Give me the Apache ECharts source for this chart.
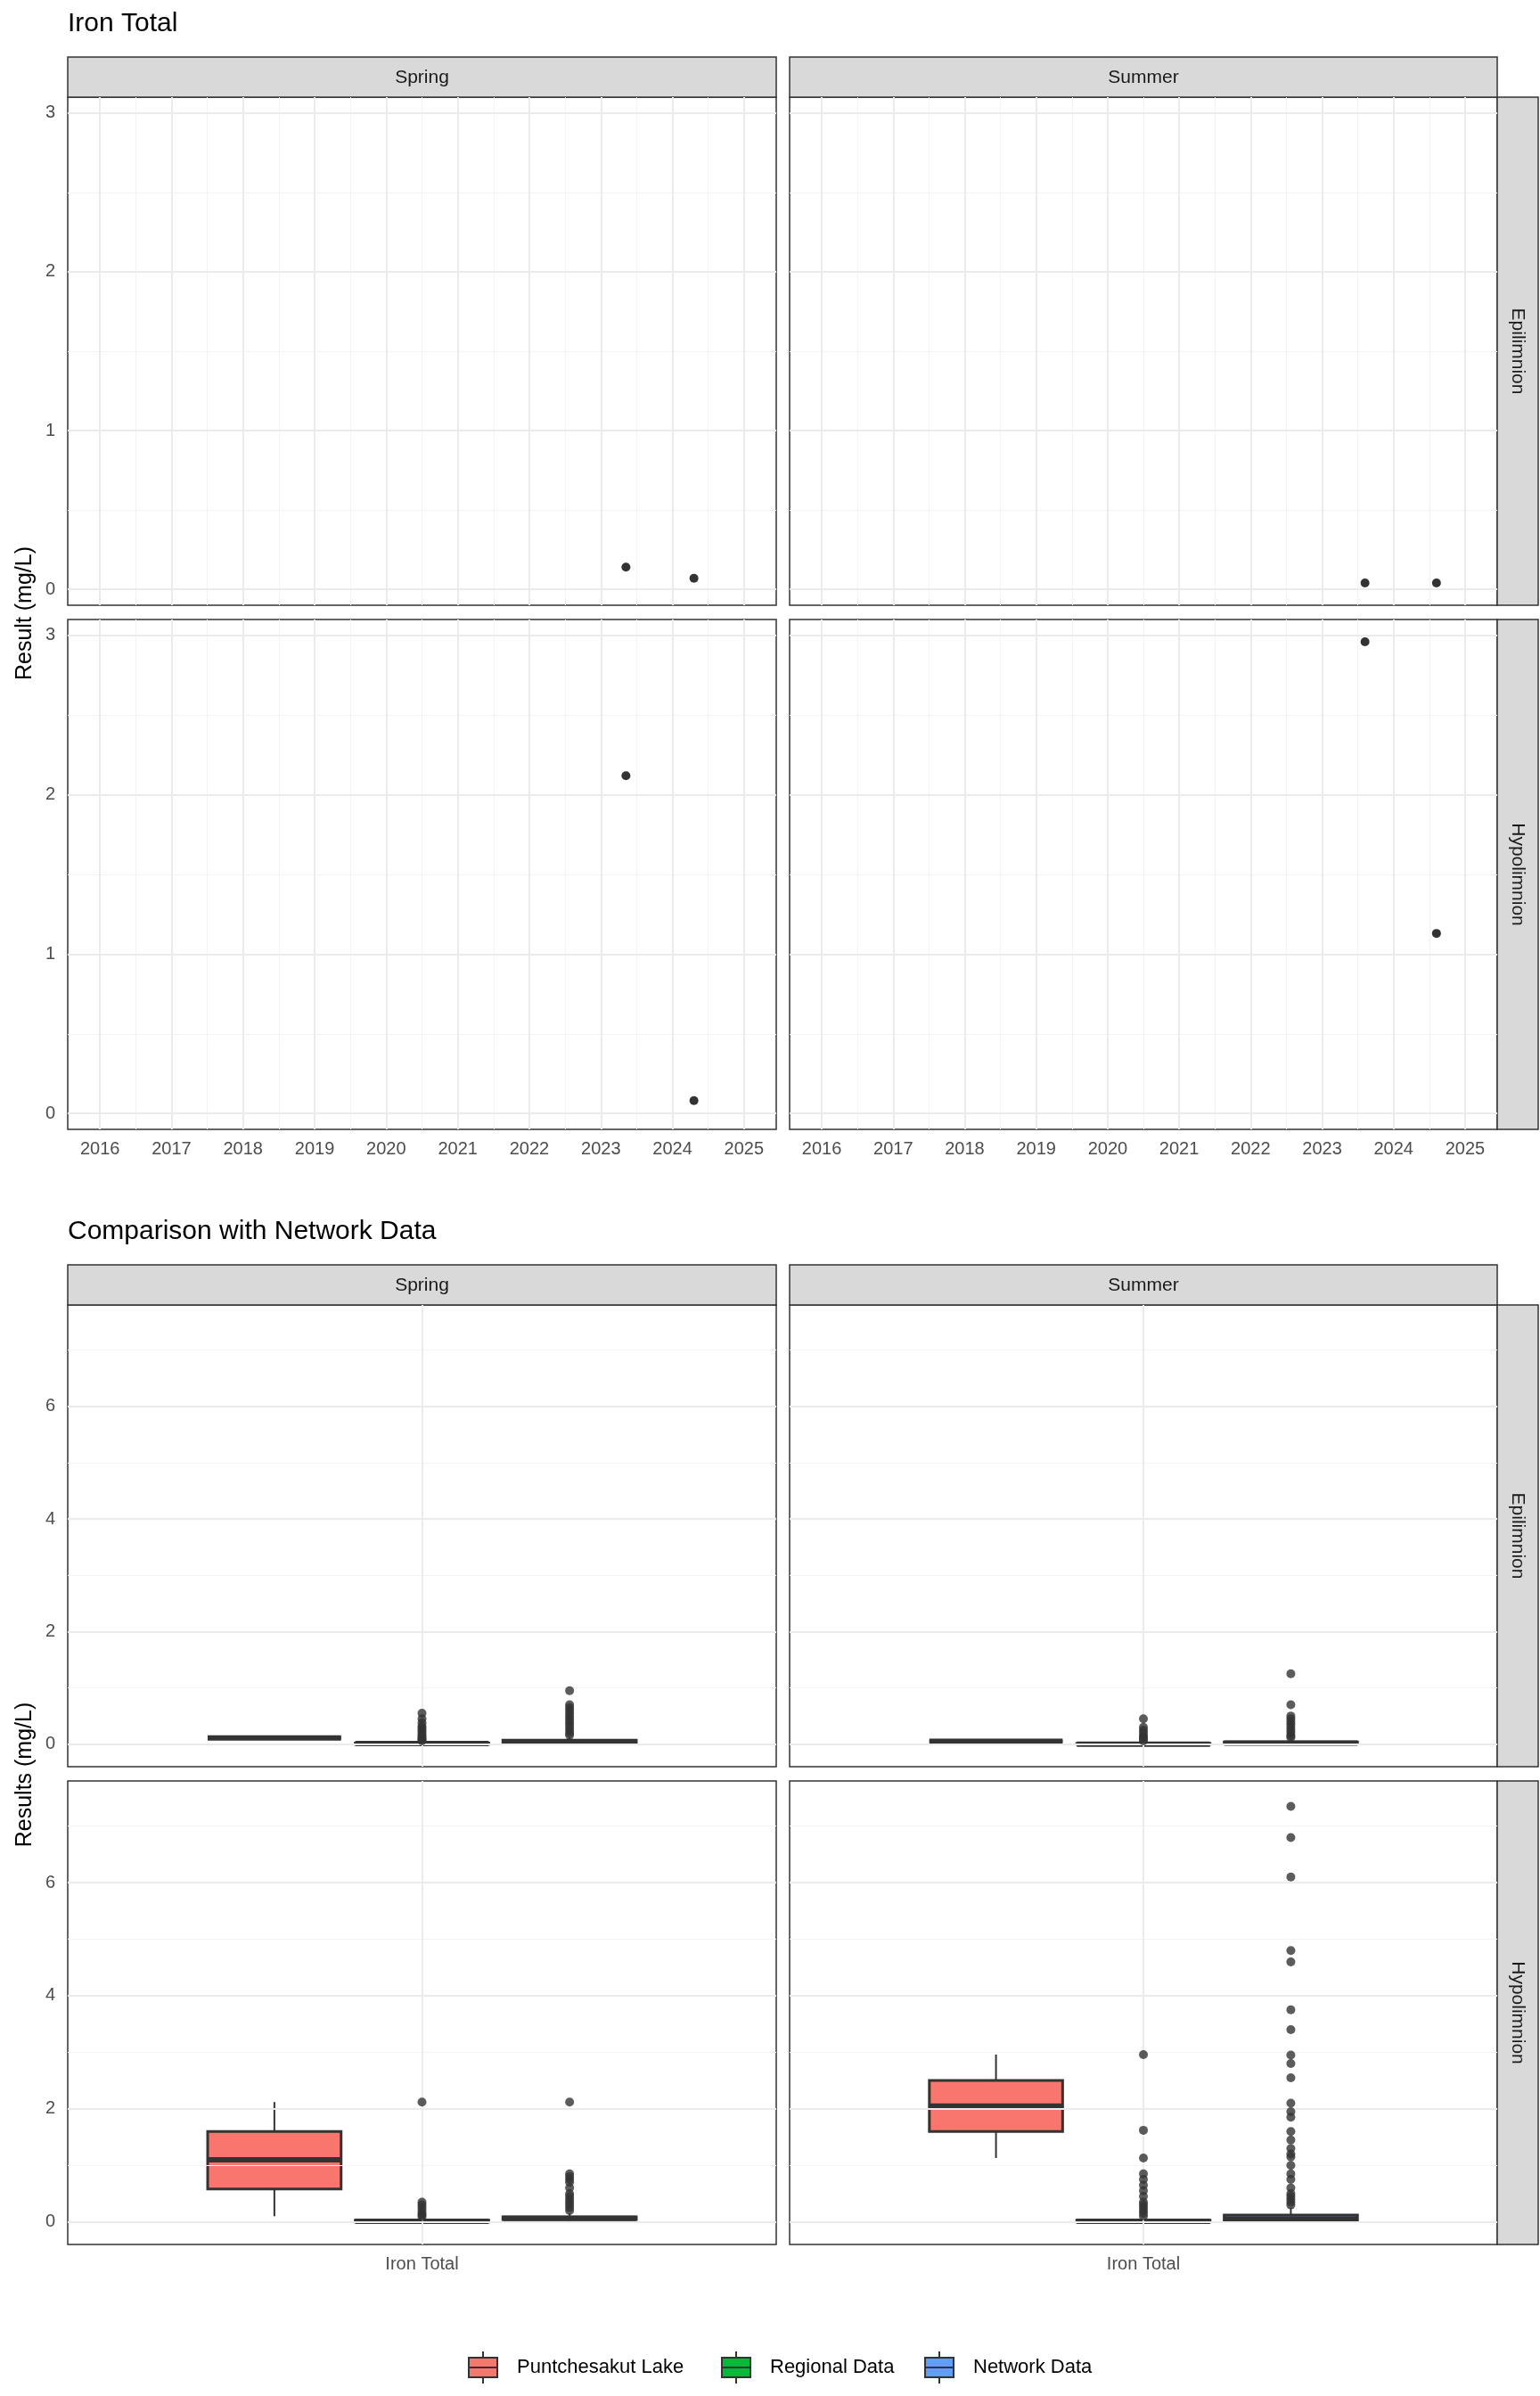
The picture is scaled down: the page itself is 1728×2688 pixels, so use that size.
<!DOCTYPE html>
<html lang="en">
<head>
<meta charset="UTF-8">
<title>Iron Total</title>
<script src="https://cdn.jsdelivr.net/npm/echarts@6/dist/echarts.min.js"></script>
<style>body{margin:0;background:#fff}#main{width:1728px;height:2688px}</style>
</head>
<body>
<div id="main"></div>
<script>
// ---- data ----
var seasons = ['Spring', 'Summer'];
var layers = ['Epilimnion', 'Hypolimnion'];
var groups = ['Puntchesakut Lake', 'Regional Data', 'Network Data'];
var groupColors = ['#F8766D', '#00BA38', '#619CFF'];
var groupX = [0.75, 1.0, 1.25];

// top: time series points [decimal year, mg/L], order SpEpi, SuEpi, SpHy, SuHy
var ptsSpringEpi = [[2023.35, 0.14], [2024.3, 0.07]];
var ptsSummerEpi = [[2023.6, 0.04], [2024.6, 0.04]];
var ptsSpringHypo = [[2023.35, 2.12], [2024.3, 0.08]];
var ptsSummerHypo = [[2023.6, 2.96], [2024.6, 1.13]];
var yearTicks = [2016, 2017, 2018, 2019, 2020, 2021, 2022, 2023, 2024, 2025];
var topYTicks = [0, 1, 2, 3];
var botYTicks = [0, 2, 4, 6];

// bottom: boxes [min, q1, median, q3, max] per group
var boxSpringEpi = [[0.11, 0.11, 0.11, 0.11, 0.11], [0, 0, 0.01, 0.02, 0.04], [0, 0.02, 0.04, 0.07, 0.12]];
var boxSummerEpi = [[0.05, 0.05, 0.05, 0.05, 0.05], [0, 0, 0, 0.01, 0.03], [0, 0.01, 0.02, 0.04, 0.08]];
var boxSpringHypo = [[0.1, 0.58, 1.1, 1.6, 2.12], [0, 0, 0.01, 0.03, 0.06], [0.02, 0.04, 0.06, 0.09, 0.15]];
var boxSummerHypo = [[1.13, 1.6, 2.05, 2.5, 2.96], [0, 0, 0.01, 0.03, 0.07], [0, 0.02, 0.05, 0.12, 0.25]];
// outliers per group
var outSpringEpi = [[], [0.55, 0.45, 0.38, 0.32, 0.28, 0.24, 0.2, 0.16, 0.13, 0.1, 0.08, 0.06], [0.95, 0.7, 0.65, 0.6, 0.55, 0.5, 0.45, 0.4, 0.35, 0.3, 0.25, 0.2, 0.16]];
var outSummerEpi = [[], [0.45, 0.3, 0.25, 0.2, 0.15, 0.12, 0.09, 0.06], [1.25, 0.7, 0.5, 0.45, 0.4, 0.35, 0.3, 0.25, 0.2, 0.15, 0.12]];
var outSpringHypo = [[], [2.12, 0.35, 0.3, 0.25, 0.2, 0.15, 0.12, 0.09], [2.12, 0.85, 0.8, 0.75, 0.7, 0.6, 0.5, 0.45, 0.4, 0.35, 0.3, 0.25, 0.2]];
var outSummerHypo = [[], [2.96, 1.62, 1.13, 0.85, 0.75, 0.65, 0.55, 0.45, 0.35, 0.3, 0.25, 0.2, 0.15, 0.1], [7.35, 6.8, 6.1, 4.8, 4.6, 3.75, 3.4, 2.95, 2.8, 2.55, 2.1, 1.95, 1.85, 1.6, 1.45, 1.3, 1.2, 1.15, 1.0, 0.85, 0.75, 0.6, 0.5, 0.45, 0.4, 0.35, 0.3]];

// ---- layout ----
var colL = [76, 886], colW = [795, 794];
var topRows = [[109, 570], [695, 572]];
var botRows = [[1464, 518], [1998, 520]];
var FONT = 'Liberation Sans, Arial, sans-serif';

var grids = [], xAxes = [], yAxes = [], series = [], graphics = [];

function gridLines(gi, xs, ys, minorXs, minorYs) {
    var d = [];
    minorXs.forEach(function (v) { d.push({xAxis: v, lineStyle: {color: '#f3f3f3', width: 1}}); });
    minorYs.forEach(function (v) { d.push({yAxis: v, lineStyle: {color: '#f3f3f3', width: 1}}); });
    xs.forEach(function (v) { d.push({xAxis: v, lineStyle: {color: '#ebebeb', width: 2}}); });
    ys.forEach(function (v) { d.push({yAxis: v, lineStyle: {color: '#ebebeb', width: 2}}); });
    series.push({
        type: 'scatter', xAxisIndex: gi, yAxisIndex: gi, data: [], silent: true, z: 0,
        markLine: {silent: true, symbol: 'none', animation: false, label: {show: false}, lineStyle: {type: 'solid'}, data: d}
    });
}

function strips(top, rowDefs) {
    for (var c = 0; c < 2; c++) {
        graphics.push({type: 'rect', shape: {x: colL[c], y: top - 45, width: colW[c], height: 45}, style: {fill: '#d9d9d9', stroke: '#333', lineWidth: 1.5}});
        graphics.push({type: 'text', x: colL[c] + colW[c] / 2, y: top - 22, style: {text: seasons[c], fill: '#1a1a1a', font: '21px ' + FONT, align: 'center', verticalAlign: 'middle'}});
    }
    for (var r = 0; r < 2; r++) {
        graphics.push({type: 'rect', shape: {x: 1680, y: rowDefs[r][0], width: 46, height: rowDefs[r][1]}, style: {fill: '#d9d9d9', stroke: '#333', lineWidth: 1.5}});
        graphics.push({type: 'text', x: 1703, y: rowDefs[r][0] + rowDefs[r][1] / 2, rotation: -Math.PI / 2, style: {text: layers[r], fill: '#1a1a1a', font: '21px ' + FONT, align: 'center', verticalAlign: 'middle'}});
    }
}

function near(v, t) { return Math.abs(v - t) < 1e-6; }

// top section
var topPts = [ptsSpringEpi, ptsSummerEpi, ptsSpringHypo, ptsSummerHypo];
var halfYears = yearTicks.map(function (y) { return y + 0.5; }).concat([2015.5]);
for (var i = 0; i < 4; i++) {
    var r = Math.floor(i / 2), c = i % 2;
    grids.push({left: colL[c], top: topRows[r][0], width: colW[c], height: topRows[r][1], show: true, borderColor: '#333', borderWidth: 1.5, backgroundColor: '#fff'});
    xAxes.push({
        type: 'value', gridIndex: i, min: 2015.55, max: 2025.45, interval: 0.05,
        splitLine: {show: false}, axisLine: {show: false}, axisTick: {show: false},
        axisLabel: {show: r === 1, color: '#4d4d4d', fontSize: 20, fontFamily: FONT, margin: 12,
            formatter: function (v) { var n = Math.round(v); return near(v, n) ? String(n) : ''; }}
    });
    yAxes.push({
        type: 'value', gridIndex: i, min: -0.1, max: 3.1, interval: 0.1,
        splitLine: {show: false}, axisLine: {show: false}, axisTick: {show: false},
        axisLabel: {show: c === 0, color: '#4d4d4d', fontSize: 20, fontFamily: FONT, margin: 14,
            showMinLabel: false, showMaxLabel: false,
            formatter: function (v) { var n = Math.round(v); return near(v, n) ? String(n) : ''; }}
    });
    gridLines(i, yearTicks, topYTicks, halfYears, [0.5, 1.5, 2.5]);
    series.push({type: 'scatter', xAxisIndex: i, yAxisIndex: i, data: topPts[i], symbolSize: 10, itemStyle: {color: '#000'}, z: 5});
}
strips(109, topRows);

// bottom section
var boxes = [boxSpringEpi, boxSummerEpi, boxSpringHypo, boxSummerHypo];
var outs = [outSpringEpi, outSummerEpi, outSpringHypo, outSummerHypo];
for (var j = 0; j < 4; j++) {
    var gi = j + 4, rr = Math.floor(j / 2), cc = j % 2;
    grids.push({left: colL[cc], top: botRows[rr][0], width: colW[cc], height: botRows[rr][1], show: true, borderColor: '#333', borderWidth: 1.5, backgroundColor: '#fff'});
    xAxes.push({
        type: 'value', gridIndex: gi, min: 0.4, max: 1.6, interval: 0.2,
        splitLine: {show: false}, axisLine: {show: false}, axisTick: {show: false},
        axisLabel: {show: rr === 1, color: '#4d4d4d', fontSize: 20, fontFamily: FONT, margin: 12,
            formatter: function (v) { return near(v, 1) ? 'Iron Total' : ''; }}
    });
    yAxes.push({
        type: 'value', gridIndex: gi, min: -0.4, max: 7.8, interval: 0.2,
        splitLine: {show: false}, axisLine: {show: false}, axisTick: {show: false},
        axisLabel: {show: cc === 0, color: '#4d4d4d', fontSize: 20, fontFamily: FONT, margin: 14,
            formatter: function (v) { var n = Math.round(v); return (near(v, n) && n % 2 === 0 && n >= 0) ? String(n) : ''; }}
    });
    gridLines(gi, [1], botYTicks, [], [1, 3, 5, 7]);
    var boxData = boxes[j].map(function (b, k) { return [groupX[k]].concat(b).concat([k]); });
    series.push({
        type: 'custom', xAxisIndex: gi, yAxisIndex: gi, data: boxData, z: 4,
        renderItem: function (params, api) {
            var x = api.value(0), k = api.value(6);
            var half = api.size([0.113, 0])[0];
            var pMin = api.coord([x, api.value(1)]), pQ1 = api.coord([x, api.value(2)]);
            var pMed = api.coord([x, api.value(3)]), pQ3 = api.coord([x, api.value(4)]);
            var pMax = api.coord([x, api.value(5)]);
            var st = {stroke: '#333', lineWidth: 2};
            return {type: 'group', children: [
                {type: 'line', shape: {x1: pMin[0], y1: pMin[1], x2: pQ1[0], y2: pQ1[1]}, style: st},
                {type: 'line', shape: {x1: pQ3[0], y1: pQ3[1], x2: pMax[0], y2: pMax[1]}, style: st},
                {type: 'rect', shape: {x: pQ1[0] - half, y: pQ3[1], width: 2 * half, height: Math.max(pQ1[1] - pQ3[1], 0)}, style: {fill: groupColors[k], stroke: '#333', lineWidth: 3}},
                {type: 'line', shape: {x1: pMed[0] - half, y1: pMed[1], x2: pMed[0] + half, y2: pMed[1]}, style: {stroke: '#333', lineWidth: 6}}
            ]};
        }
    });
    var od = [];
    outs[j].forEach(function (arr, k) { arr.forEach(function (v) { od.push([groupX[k], v]); }); });
    series.push({type: 'scatter', xAxisIndex: gi, yAxisIndex: gi, data: od, symbolSize: 10, itemStyle: {color: '#333'}, z: 5});
}
strips(1464, botRows);

// titles, axis names, legend
graphics.push({type: 'text', x: 76, y: 12, style: {text: 'Iron Total', fill: '#000', font: '30px ' + FONT}});
graphics.push({type: 'text', x: 76, y: 1367, style: {text: 'Comparison with Network Data', fill: '#000', font: '30px ' + FONT}});
graphics.push({type: 'text', x: 28, y: 688, rotation: Math.PI / 2, style: {text: 'Result (mg/L)', fill: '#000', font: '25px ' + FONT, align: 'center', verticalAlign: 'middle'}});
graphics.push({type: 'text', x: 28, y: 1991, rotation: Math.PI / 2, style: {text: 'Results (mg/L)', fill: '#000', font: '25px ' + FONT, align: 'center', verticalAlign: 'middle'}});
var legX = [524, 808, 1036];
groups.forEach(function (g, k) {
    var x0 = legX[k], yc = 2656;
    graphics.push({type: 'line', shape: {x1: x0 + 18, y1: yc - 18, x2: x0 + 18, y2: yc + 18}, style: {stroke: '#333', lineWidth: 2}});
    graphics.push({type: 'rect', shape: {x: x0 + 2, y: yc - 11, width: 32, height: 22}, style: {fill: groupColors[k], stroke: '#333', lineWidth: 2}});
    graphics.push({type: 'line', shape: {x1: x0 + 2, y1: yc, x2: x0 + 34, y2: yc}, style: {stroke: '#333', lineWidth: 2}});
    graphics.push({type: 'text', x: x0 + 56, y: yc, style: {text: g, fill: '#000', font: '22px ' + FONT, verticalAlign: 'middle'}});
});

var chart = echarts.init(document.getElementById('main'));
chart.setOption({
    animation: false,
    backgroundColor: '#fff',
    grid: grids, xAxis: xAxes, yAxis: yAxes, series: series,
    graphic: {elements: graphics}
});
</script>
</body>
</html>
